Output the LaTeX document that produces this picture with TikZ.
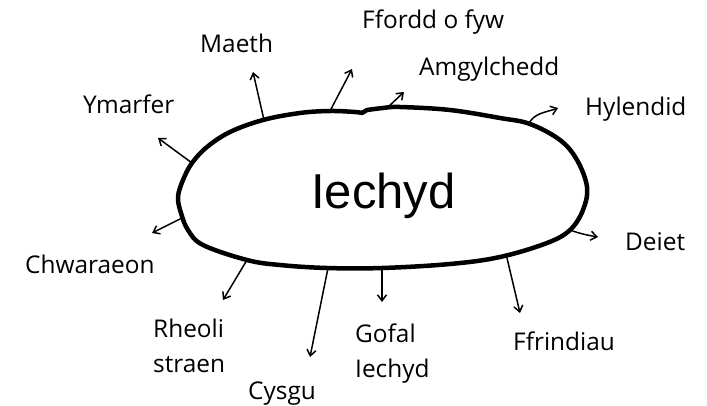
\documentclass[tikz,border=0pt]{standalone}
\usepackage{fontspec}
\setmainfont{Open Sans}
\newfontfamily\centrefont{Liberation Sans}
\usetikzlibrary{arrows.meta}
\begin{document}
\begin{tikzpicture}[x=1pt,y=-1pt,
  blob/.style={line width=4.5pt, line join=round},
  arr/.style={-{Straight Barb[length=6pt,width=9pt]}, line width=1.5pt},
  lbl/.style={anchor=base west, inner sep=0pt, font=\fontsize{24.4}{30}\selectfont},
  centre/.style={anchor=base, inner sep=0pt, font=\centrefont\fontsize{49}{55}\selectfont}]
\useasboundingbox (0,0) rectangle (707,405);
% blob outline
\draw[blob] plot[smooth, tension=0.6] coordinates {(367,110) (383,108) (400,107) (450,110) (500,118) (530,124) (560,140) (577,160) (587,187) (583,210) (570,230) (547,243) (500,257) (450,264) (382,268) (327,268) (280,265) (247,260) (203,245) (188,230) (181,213) (178,197) (183,180) (192,163) (207,147) (230,132) (263,120) (300,113) (330,111) (355,112) (362,113)} -- cycle;
\node[centre] (main) at (383.5,208) {Iechyd};
% start points on the blob
\coordinate (sMaeth) at (264,120);
\coordinate (sFfordd) at (330,111);
\coordinate (sAmg) at (387,108);
\coordinate (sHyl) at (528,125);
\coordinate (sDeiet) at (570,230);
\coordinate (sFfr) at (507,258);
\coordinate (sGofal) at (382,268);
\coordinate (sCysgu) at (328,268);
\coordinate (sRheoli) at (247,260);
\coordinate (sChw) at (182,218);
\coordinate (sYm) at (192,163);
% arrow tips
\coordinate (tMaeth) at (253,72);
\coordinate (tFfordd) at (352,69);
\coordinate (tAmg) at (404,92);
\coordinate (tHyl) at (558,108);
\coordinate (tDeiet) at (598,237);
\coordinate (tFfr) at (520,313);
\coordinate (tGofal) at (382,302);
\coordinate (tCysgu) at (310,357);
\coordinate (tRheoli) at (223,300);
\coordinate (tChw) at (152,233);
\coordinate (tYm) at (158,138);
% arrows
\draw[arr] (sMaeth) -- (tMaeth);
\draw[arr] (sFfordd) -- (tFfordd);
\draw[arr] (sAmg) -- (tAmg);
\draw[arr] (sHyl) to[out=65,in=200] (tHyl);
\draw[arr] (sDeiet) to[out=-20,in=170] (tDeiet);
\draw[arr] (sFfr) -- (tFfr);
\draw[arr] (sGofal) -- (tGofal);
\draw[arr] (sCysgu) -- (tCysgu);
\draw[arr] (sRheoli) -- (tRheoli);
\draw[arr] (sChw) -- (tChw);
\draw[arr] (sYm) -- (tYm);
% labels
\node[lbl] (lMaeth) at (200,52) {Maeth};
\node[lbl] (lFfordd) at (362,28) {Ffordd o fyw};
\node[lbl] (lAmg) at (419,75) {Amgylchedd};
\node[lbl] (lHyl) at (585,115) {Hylendid};
\node[lbl] (lYm) at (83,113) {Ymarfer};
\node[lbl] (lChw) at (25,273) {Chwaraeon};
\node[lbl] (lDeiet) at (625,250) {Deiet};
\node[lbl] (lFfr) at (513,350) {Ffrindiau};
\node[lbl] (lRheoli) at (153,337) {Rheoli};
\node[lbl] (lStraen) at (153,372) {straen};
\node[lbl] (lCysgu) at (248,399) {Cysgu};
\node[lbl] (lGofal) at (355,342) {Gofal};
\node[lbl] (lIechyd) at (355,377) {Iechyd};
\end{tikzpicture}
\end{document}
